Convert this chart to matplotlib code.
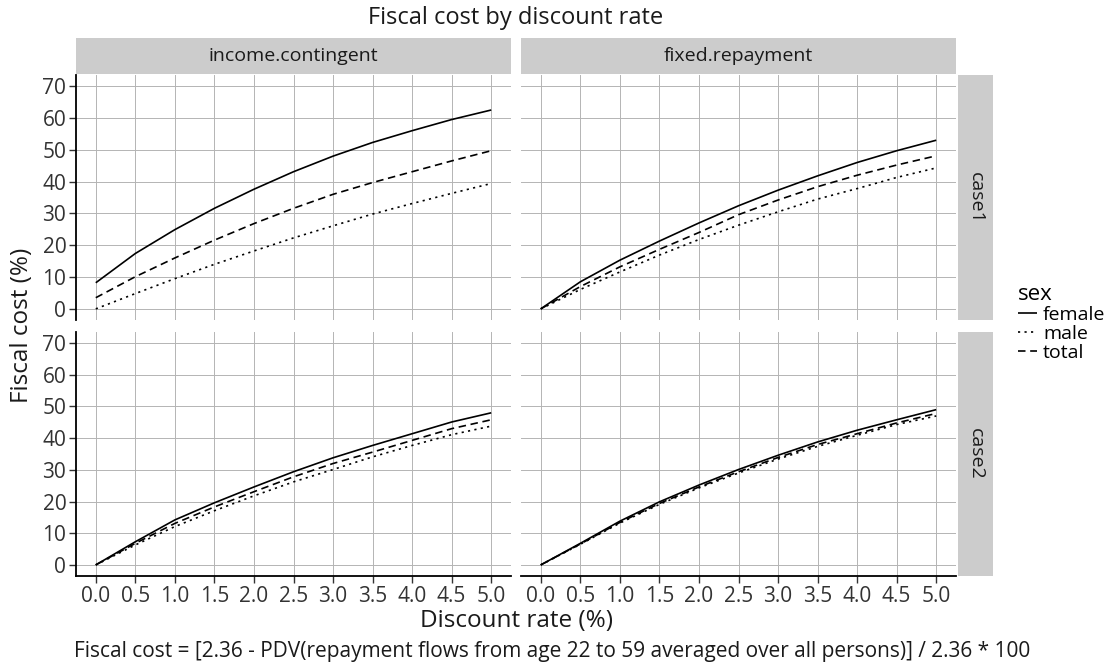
import matplotlib
matplotlib.use("Agg")
import matplotlib.pyplot as plt
import numpy as np

plt.rcParams['font.family'] = ['Open Sans', 'DejaVu Sans']

# discount rate (%)
rate = [0.0, 0.5, 1.0, 1.5, 2.0, 2.5, 3.0, 3.5, 4.0, 4.5, 5.0]

# fiscal cost (%)
ic_case1_female = [8.2, 17.4, 24.9, 31.6, 37.6, 43.1, 48.0, 52.3, 56.0, 59.5, 62.5]
ic_case1_male = [0.0, 4.8, 9.5, 14.0, 18.2, 22.3, 26.1, 29.8, 33.1, 36.3, 39.4]
ic_case1_total = [3.5, 10.1, 16.0, 21.6, 26.8, 31.6, 36.0, 39.7, 43.1, 46.5, 49.7]

fr_case1_female = [0.0, 8.5, 15.3, 21.3, 27.0, 32.4, 37.3, 41.8, 46.0, 49.7, 53.0]
fr_case1_male = [0.0, 6.1, 11.6, 16.9, 21.8, 26.3, 30.5, 34.5, 37.8, 41.3, 44.3]
fr_case1_total = [0.0, 7.0, 13.2, 18.7, 24.0, 29.6, 34.2, 38.4, 42.0, 45.2, 48.1]

ic_case2_female = [0.0, 7.3, 14.2, 19.6, 24.6, 29.4, 33.8, 37.7, 41.4, 45.1, 48.0]
ic_case2_male = [0.0, 6.3, 12.1, 17.1, 21.8, 26.2, 30.1, 34.1, 37.7, 41.1, 43.8]
ic_case2_total = [0.0, 6.8, 13.1, 18.3, 23.1, 27.8, 32.0, 35.6, 39.3, 43.0, 45.8]

fr_case2_female = [0.0, 6.8, 13.8, 19.9, 25.2, 30.1, 34.6, 38.8, 42.5, 45.8, 49.0]
fr_case2_male = [0.0, 6.5, 13.2, 19.1, 24.3, 29.0, 33.4, 37.4, 40.9, 44.3, 47.0]
fr_case2_total = [0.0, 6.6, 13.4, 19.4, 24.6, 29.4, 33.9, 38.0, 41.4, 44.8, 47.8]

col_labels = ['income.contingent', 'fixed.repayment']
row_labels = ['case1', 'case2']
sexes = ['female', 'male', 'total']
panels = {
    (0, 0): [ic_case1_female, ic_case1_male, ic_case1_total],
    (0, 1): [fr_case1_female, fr_case1_male, fr_case1_total],
    (1, 0): [ic_case2_female, ic_case2_male, ic_case2_total],
    (1, 1): [fr_case2_female, fr_case2_male, fr_case2_total],
}
styles = {'female': (0, ()), 'male': (0, (1.3, 2.6)), 'total': (0, (4.5, 2.8))}

W, H = 1113, 665
fig = plt.figure(figsize=(W / 100, H / 100), dpi=100)


def box(x0, y0, x1, y1):
    # pixel box (top-left origin) -> figure fraction
    return [x0 / W, 1 - y1 / H, (x1 - x0) / W, (y1 - y0) / H]


xs = [(76, 511), (521, 956)]
ys = [(75, 320), (332, 576)]
strip_gray = '#cccccc'

for (r, c), series in panels.items():
    ax = fig.add_axes(box(xs[c][0], ys[r][0], xs[c][1], ys[r][1]))
    for s, vals in zip(sexes, series):
        ax.plot(rate, vals, color='black', lw=1.2, linestyle=styles[s], label=s)
    ax.set_xlim(-0.25, 5.25)
    ax.set_ylim(-3.5, 73.5)
    ax.set_xticks(np.arange(0, 5.01, 0.5))
    ax.set_yticks(np.arange(0, 71, 10))
    ax.grid(True, color='#b4b4b4', lw=0.7)
    ax.set_axisbelow(True)
    for sp in ['top', 'right']:
        ax.spines[sp].set_visible(False)
    ax.spines['left'].set_visible(c == 0)
    ax.spines['bottom'].set_visible(r == 1)
    ax.spines['left'].set_linewidth(1.3)
    ax.spines['bottom'].set_linewidth(1.3)
    ax.tick_params(length=5, width=1, color='#333333', labelsize=15,
                   labelcolor='#333333', pad=2)
    if c != 0:
        ax.tick_params(axis='y', left=False, labelleft=False)
    if r != 1:
        ax.tick_params(axis='x', bottom=False, labelbottom=False)
    else:
        ax.set_xticklabels([f'{v:.1f}' for v in np.arange(0, 5.01, 0.5)])
    if r == 0:
        sax = fig.add_axes(box(xs[c][0], 38, xs[c][1], 74))
        sax.set_facecolor(strip_gray)
        sax.set_xticks([]); sax.set_yticks([])
        for sp in sax.spines.values():
            sp.set_visible(False)
        sax.text(0.5, 0.5, col_labels[c], ha='center', va='center',
                 fontsize=14, color='#1a1a1a', transform=sax.transAxes)
    if c == 1:
        sax = fig.add_axes(box(958, ys[r][0], 993, ys[r][1]))
        sax.set_facecolor(strip_gray)
        sax.set_xticks([]); sax.set_yticks([])
        for sp in sax.spines.values():
            sp.set_visible(False)
        sax.text(0.5, 0.5, row_labels[r], ha='center', va='center', rotation=-90,
                 fontsize=14, color='#1a1a1a', transform=sax.transAxes)
    if (r, c) == (0, 1):
        handles, labels = ax.get_legend_handles_labels()

leg = fig.legend(handles, labels, title='sex', loc='upper left',
                 bbox_to_anchor=(1008 / W, 1 - 274 / H), frameon=False,
                 fontsize=14, title_fontsize=16, handlelength=1.0,
                 handletextpad=0.3, labelspacing=0.05, borderpad=0)
leg._legend_box.align = 'left'

fig.text(516 / W, 1 - 18 / H, 'Fiscal cost by discount rate', ha='center',
         va='center', fontsize=17, color='#1a1a1a')
fig.text(516 / W, 1 - 621 / H, 'Discount rate (%)', ha='center', va='center',
         fontsize=17.5, color='#1a1a1a')
fig.text(22 / W, 1 - 325 / H, 'Fiscal cost (%)', ha='center', va='center',
         rotation=90, fontsize=17.5, color='#1a1a1a')
fig.text(1030 / W, 1 - 651 / H,
         'Fiscal cost = [2.36 - PDV(repayment flows from age 22 to 59 averaged over all persons)] / 2.36 * 100',
         ha='right', va='center', fontsize=15, color='#1a1a1a')

fig.savefig('out.png', dpi=100)
